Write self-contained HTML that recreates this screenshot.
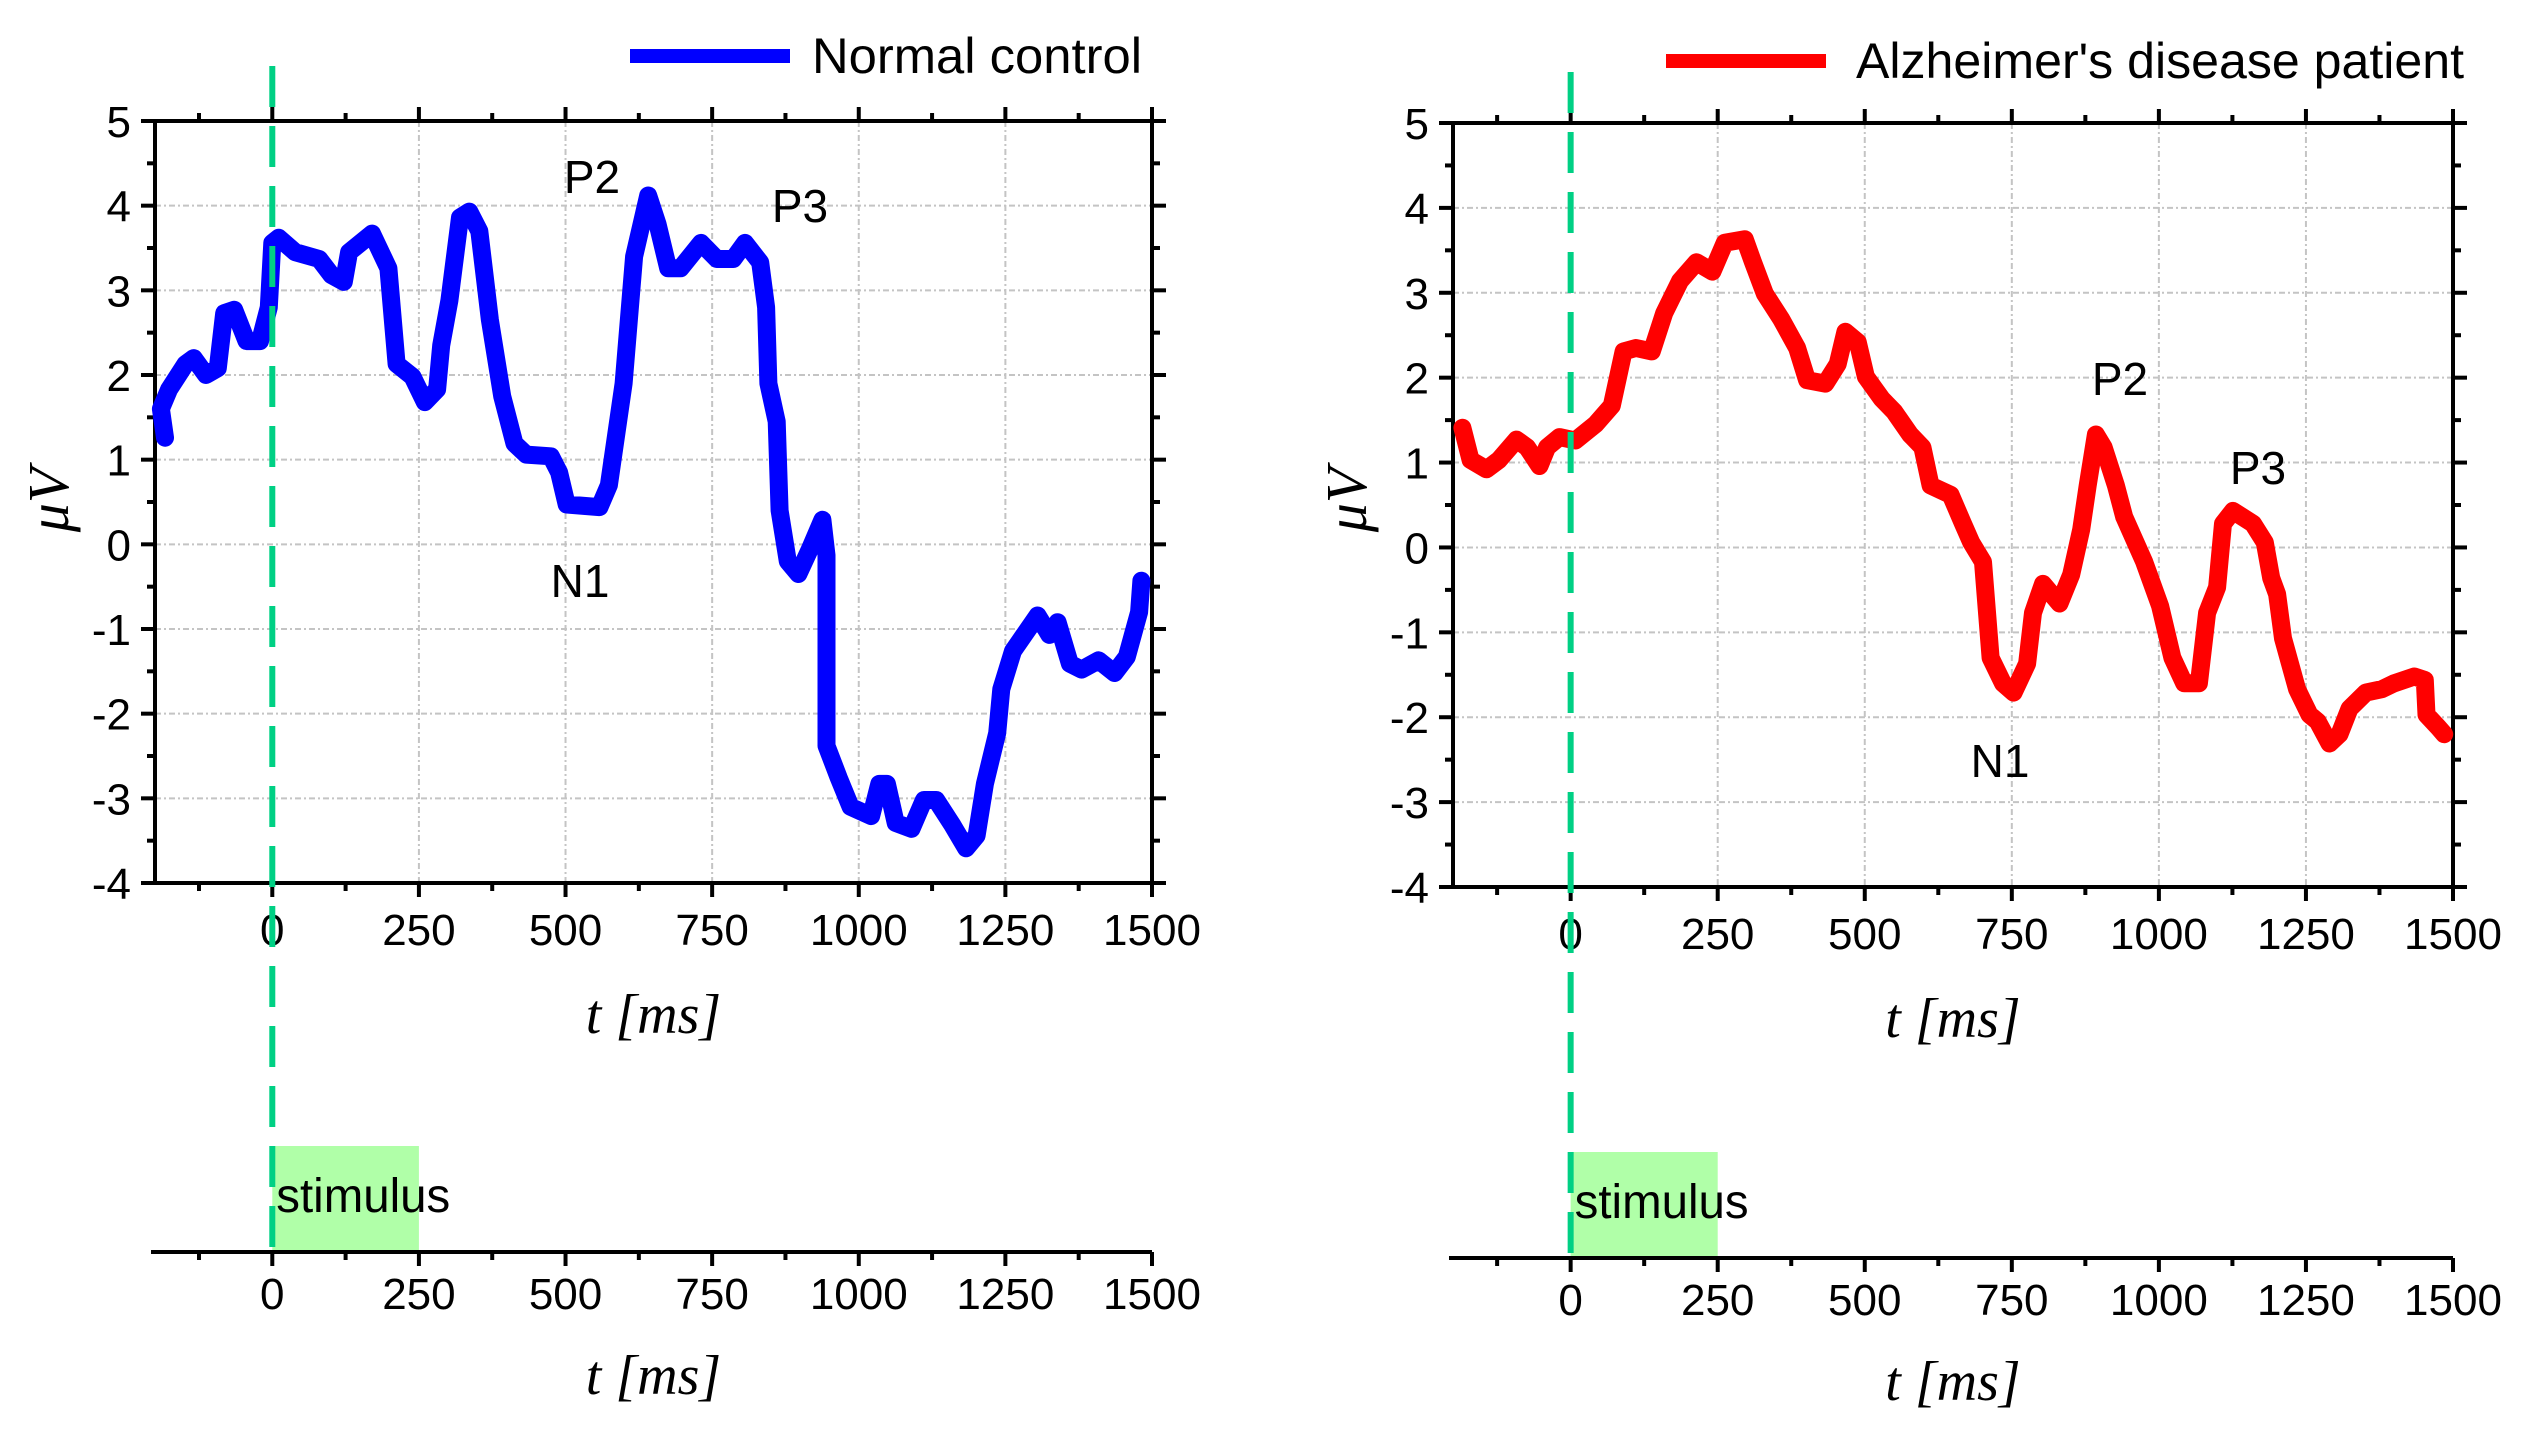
<!DOCTYPE html>
<html><head><meta charset="utf-8"><style>
html,body{margin:0;padding:0;background:#fff;}
svg{display:block;font-family:"Liberation Sans",Arial,sans-serif;}
</style></head><body>
<svg id="fig" width="2530" height="1439" viewBox="0 0 2530 1439" xmlns="http://www.w3.org/2000/svg"></svg>
<script>
const xTicks = [0, 250, 500, 750, 1000, 1250, 1500];
const yTicks = [-4, -3, -2, -1, 0, 1, 2, 3, 4, 5];
const normalT = [-183,-190,-176,-148,-134,-113,-93,-82,-65,-44,-21,-6,0,11,39,80,101,122,131,170,198,212,239,260,281,288,302,320,336,353,371,392,413,433,475,489,502,558,574,599,617,641,657,675,696,731,758,786,806,832,842,846,860,865,879,897,917,938,945,945,966,986,1021,1035,1048,1063,1090,1111,1132,1160,1183,1201,1215,1236,1243,1263,1305,1325,1339,1360,1380,1409,1436,1457,1478,1482];
const normalV = [1.26,1.6,1.83,2.13,2.2,2.0,2.08,2.73,2.77,2.4,2.4,2.8,3.56,3.62,3.45,3.37,3.18,3.1,3.45,3.67,3.26,2.13,1.98,1.68,1.83,2.35,2.88,3.86,3.93,3.7,2.65,1.75,1.19,1.06,1.04,0.85,0.47,0.44,0.7,1.9,3.4,4.12,3.78,3.26,3.26,3.56,3.37,3.37,3.56,3.33,2.8,1.9,1.45,0.4,-0.2,-0.35,-0.05,0.29,-0.13,-2.38,-2.76,-3.1,-3.21,-2.83,-2.83,-3.29,-3.36,-3.02,-3.02,-3.32,-3.59,-3.44,-2.83,-2.23,-1.71,-1.26,-0.84,-1.07,-0.92,-1.41,-1.48,-1.37,-1.52,-1.33,-0.8,-0.43];
const adT = [-184,-170,-143,-122,-92,-74,-53,-40,-19,8,42,70,90,111,138,159,186,214,241,262,296,310,330,358,385,402,433,454,467,488,502,529,550,577,598,612,646,667,681,701,714,735,753,776,786,803,831,851,868,879,893,906,927,941,975,1002,1023,1043,1068,1082,1099,1109,1126,1160,1180,1191,1201,1211,1235,1256,1270,1290,1307,1324,1352,1379,1400,1434,1452,1455,1475,1485];
const adV = [1.41,1.03,0.92,1.03,1.27,1.18,0.96,1.18,1.3,1.26,1.45,1.67,2.31,2.35,2.31,2.76,3.14,3.36,3.25,3.59,3.63,3.36,2.99,2.69,2.35,1.97,1.93,2.16,2.54,2.42,2.01,1.75,1.6,1.33,1.18,0.73,0.62,0.28,0.06,-0.17,-1.3,-1.6,-1.71,-1.37,-0.77,-0.43,-0.66,-0.32,0.21,0.73,1.33,1.18,0.73,0.36,-0.17,-0.69,-1.3,-1.6,-1.6,-0.77,-0.47,0.28,0.43,0.28,0.06,-0.36,-0.55,-1.07,-1.67,-1.97,-2.05,-2.31,-2.2,-1.9,-1.71,-1.67,-1.6,-1.52,-1.56,-1.97,-2.12,-2.2];
const stimulus = [0, 250];

const NS = "http://www.w3.org/2000/svg";
const svg = document.getElementById('fig');
function mk(tag, attrs, parent){const e=document.createElementNS(NS,tag);for(const k in attrs)e.setAttribute(k,attrs[k]);(parent||svg).appendChild(e);return e;}
function txt(s, attrs, parent){const e=mk('text',attrs,parent);e.textContent=s;return e;}

function chart(cfg){
  const g = mk('g',{});
  
  
  const X = t => cfg.x0 + (t - (-200)) * (cfg.x1 - cfg.x0) / 1700;
  const Y = v => cfg.yb + (v - (-4)) * (cfg.yt - cfg.yb) / 9;
  xTicks.forEach(t=>{ if(t>0&&t<1500){const l=mk('line',{x1:X(t),x2:X(t),y1:cfg.yt,y2:cfg.yb,stroke:'#c4c4c4','stroke-width':2,'stroke-dasharray':'6 3 2 3'},g);
    
    }});
  yTicks.forEach(v=>{ if(v>-4&&v<5){const l=mk('line',{x1:cfg.x0,x2:cfg.x1,y1:Y(v),y2:Y(v),stroke:'#c4c4c4','stroke-width':2,'stroke-dasharray':'6 3 2 3'},g);
    
    }});
  const fr = mk('rect',{x:cfg.x0,y:cfg.yt,width:cfg.x1-cfg.x0,height:cfg.yb-cfg.yt,fill:'none',stroke:'#000','stroke-width':4},g);
  
  
  for(let t=-125;t<=1500;t+=125){
    const len = (t%250===0)?14:8;
    mk('line',{x1:X(t),x2:X(t),y1:cfg.yb,y2:cfg.yb+len,stroke:'#000','stroke-width':4},g);
    mk('line',{x1:X(t),x2:X(t),y1:cfg.yt,y2:cfg.yt-len,stroke:'#000','stroke-width':4},g);
  }
  xTicks.forEach(t=>{const e=txt(String(t),{x:X(t),y:cfg.yb+62,'font-size':44,'text-anchor':'middle',fill:'#000'},g);
    
    });
  for(let v=-4;v<=5;v+=0.5){
    const len = (v%1===0)?14:8;
    mk('line',{x1:cfg.x0,x2:cfg.x0-len,y1:Y(v),y2:Y(v),stroke:'#000','stroke-width':4},g);
    mk('line',{x1:cfg.x1,x2:cfg.x1+len,y1:Y(v),y2:Y(v),stroke:'#000','stroke-width':4},g);
  }
  yTicks.forEach(v=>{const e=txt(String(v),{x:cfg.x0-24,y:Y(v)+16,'font-size':44,'text-anchor':'end',fill:'#000'},g);
    
    });
  const yl = txt('μV',{x:0,y:0,'font-size':58,'text-anchor':'middle',transform:`translate(${cfg.ylx},${cfg.yly}) rotate(-90)`,'font-family':'"Liberation Serif",serif','font-style':'italic'},g);
  
  
  const xl = txt('t [ms]',{x:X(650),y:cfg.xly,'font-size':56,'text-anchor':'middle','font-family':'"Liberation Serif",serif','font-style':'italic'},g);
  
  
  const d = cfg.t.map((t,i)=>(i?'L':'M')+X(t).toFixed(1)+','+Y(cfg.v[i]).toFixed(1)).join(' ');
  const p = mk('path',{d:d,fill:'none',stroke:cfg.color,'stroke-width':18,'stroke-linejoin':'round','stroke-linecap':'round'},g);
  
  
  cfg.ann.forEach(a=>{const e=txt(a[0],{x:a[1],y:a[2],'font-size':46,'text-anchor':'middle'},g);
    
    });
  const ll = mk('line',{x1:cfg.legX1,x2:cfg.legX2,y1:cfg.legY,y2:cfg.legY,stroke:cfg.color,'stroke-width':14},g);
  
  
  const lt = txt(cfg.label,{x:cfg.legTX,y:cfg.legY+17,'font-size':50,textLength:cfg.legTW,lengthAdjust:'spacingAndGlyphs'},g);
  
  
  const ba = cfg.bAxis;
  const sb = mk('rect',{x:X(stimulus[0]),y:ba-106,width:X(stimulus[1])-X(stimulus[0]),height:106,fill:'#b0ffa8'},g);
  
  
  const st = txt('stimulus',{x:X(0)+4,y:ba-40,'font-size':48,textLength:174,lengthAdjust:'spacingAndGlyphs'},g);
  
  
  const bl = mk('line',{x1:cfg.x0-4,x2:cfg.x1,y1:ba,y2:ba,stroke:'#000','stroke-width':4},g);
  
  
  for(let t=-125;t<=1500;t+=125){
    const len=(t%250===0)?14:8;
    mk('line',{x1:X(t),x2:X(t),y1:ba,y2:ba+len,stroke:'#000','stroke-width':4},g);
  }
  xTicks.forEach(t=>{const e=txt(String(t),{x:X(t),y:ba+57,'font-size':44,'text-anchor':'middle'},g);
    
    });
  const bt = txt('t [ms]',{x:X(650),y:ba+142,'font-size':56,'text-anchor':'middle','font-family':'"Liberation Serif",serif','font-style':'italic'},g);
  
  
  const on = mk('line',{x1:X(0),x2:X(0),y1:cfg.onTop,y2:ba+2,stroke:'#00d084','stroke-width':6,'stroke-dasharray':'41 19'},g);
  
  
}

chart({name:'normal-control-chart',x0:155,x1:1152,yt:121,yb:883,t:normalT,v:normalV,color:'#0000ff',seriesName:'normal-control-line',
  ylx:68,yly:500,xly:1033,ann:[['P2',592,193],['P3',800,222],['N1',580,597]],
  legX1:630,legX2:790,legY:56,legTX:812,legTW:330,label:'Normal control',bAxis:1252,onTop:66});
chart({name:'alzheimers-patient-chart',x0:1453,x1:2453,yt:123,yb:887,t:adT,v:adV,color:'#ff0000',seriesName:'alzheimers-patient-line',
  ylx:1366,yly:500,xly:1037,ann:[['P2',2120,395],['P3',2258,484],['N1',2000,777]],
  legX1:1666,legX2:1826,legY:61,legTX:1856,legTW:608,label:"Alzheimer's disease patient",bAxis:1258,onTop:72});
</script>
</body></html>
